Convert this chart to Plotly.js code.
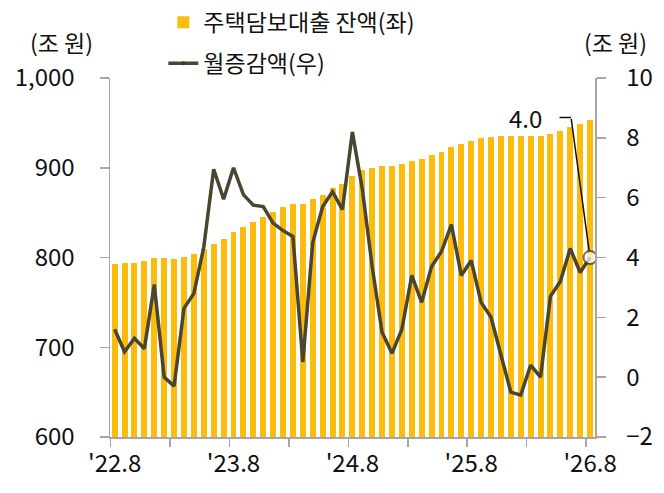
<!DOCTYPE html>
<html>
<head>
<meta charset="utf-8">
<script src="https://cdn.plot.ly/plotly-3.0.1.min.js"></script>
<style>
  html, body { margin: 0; padding: 0; background: #fff; }
  #chart { width: 664px; height: 493px; }
</style>
</head>
<body>
<div id="chart"></div>
<script>
// monthly, '22.8 ~ '26.8
const months = [
  "'22.8", "'22.9", "'22.10", "'22.11", "'22.12",
  "'23.1", "'23.2", "'23.3", "'23.4", "'23.5", "'23.6", "'23.7", "'23.8", "'23.9", "'23.10", "'23.11", "'23.12",
  "'24.1", "'24.2", "'24.3", "'24.4", "'24.5", "'24.6", "'24.7", "'24.8", "'24.9", "'24.10", "'24.11", "'24.12",
  "'25.1", "'25.2", "'25.3", "'25.4", "'25.5", "'25.6", "'25.7", "'25.8", "'25.9", "'25.10", "'25.11", "'25.12",
  "'26.1", "'26.2", "'26.3", "'26.4", "'26.5", "'26.6", "'26.7", "'26.8"
];

// 주택담보대출 잔액 (조 원, 좌축)
const balance = [
  793, 794, 794, 796, 799,
  799, 798, 801, 804, 809, 815, 821, 828, 834, 840, 845, 851,
  856, 860, 860, 865, 870, 877, 882, 891, 897, 900, 902, 902,
  904, 908, 910, 914, 918, 923, 927, 930, 933, 934, 935, 935,
  935, 935, 935, 938, 941, 945, 949, 953
];

// 월증감액 (조 원, 우축)
const change = [
  1.6, 0.85, 1.3, 0.95, 3.1,
  0.0, -0.3, 2.3, 2.8, 4.35, 6.95, 5.95, 7.0, 6.1, 5.75, 5.7, 5.15,
  4.9, 4.7, 0.5, 4.5, 5.7, 6.2, 5.6, 8.2, 6.3, 3.7, 1.5, 0.8,
  1.6, 3.4, 2.5, 3.7, 4.2, 5.1, 3.4, 3.9, 2.5, 2.0, 0.8, -0.5,
  -0.6, 0.4, 0.0, 2.7, 3.2, 4.3, 3.5, 4.0
];

const labelMonths = ["'22.8", "'23.8", "'24.8", "'25.8", "'26.8"];

const xs = months.map((m, i) => i);
const last = months.length - 1;

const FONT = '"Noto Sans CJK KR", "Noto Sans", sans-serif';
const BAR = '#fbbc0e';
const LINE = '#4a4530';
const AXIS = '#a6a6a6';

const traces = [
  {
    type: 'bar',
    name: '주택담보대출 잔액(좌)',
    x: xs,
    y: balance,
    width: 0.6,
    marker: { color: BAR },
    legendgroup: 'a',
    hoverinfo: 'skip'
  },
  {
    type: 'scatter',
    mode: 'lines+markers',
    name: '월증감액(우)',
    x: xs,
    y: change,
    yaxis: 'y2',
    line: { color: LINE, width: 3.5 },
    marker: {
      size: change.map((v, i) => i === last ? 13 : 0),
      color: '#ffffff',
      line: { color: '#333', width: 2 }
    },
    legendgroup: 'b',
    hoverinfo: 'skip'
  }
];

// ticks sit slightly left of each bar, labels under the bar
const tickPos = [];
for (let i = 0; i <= last; i += 6) tickPos.push(i - 0.4);

const layout = {
  width: 664,
  height: 493,
  margin: { l: 110, r: 69, t: 78, b: 56, autoexpand: false },
  paper_bgcolor: '#fff',
  plot_bgcolor: '#fff',
  font: { family: FONT, size: 24, color: '#111' },
  showlegend: true,
  bargap: 0,
  legend: {
    x: 0.11, xanchor: 'left',
    y: 1.215, yanchor: 'top',
    bgcolor: 'rgba(0,0,0,0)',
    font: { family: FONT, size: 23, color: '#111' },
    tracegroupgap: 8,
    traceorder: 'grouped'
  },
  xaxis: {
    range: [-0.47, 48.5],
    tickvals: labelMonths.map(m => months.indexOf(m)),
    ticktext: labelMonths,
    ticks: '',
    showgrid: false,
    zeroline: false,
    showline: true,
    linecolor: AXIS,
    linewidth: 1.5,
    tickfont: { size: 24 },
    ticklabelstandoff: 5,
    minor: {
      tickvals: tickPos,
      ticks: 'outside',
      ticklen: 8,
      tickwidth: 1.5,
      tickcolor: AXIS,
      showgrid: false
    }
  },
  yaxis: {
    range: [600, 1000],
    tickvals: [600, 700, 800, 900, 1000],
    tickformat: ',',
    showgrid: false,
    zeroline: false,
    showline: true,
    linecolor: AXIS,
    linewidth: 1.5,
    ticks: 'outside',
    ticklen: 9,
    tickwidth: 1.5,
    tickcolor: AXIS,
    ticklabelstandoff: 20
  },
  yaxis2: {
    overlaying: 'y',
    side: 'right',
    range: [-2, 10],
    tickvals: [-2, 0, 2, 4, 6, 8, 10],
    showgrid: false,
    zeroline: false,
    showline: true,
    linecolor: AXIS,
    linewidth: 1.5,
    ticks: 'outside',
    ticklen: 9,
    tickwidth: 1.5,
    tickcolor: AXIS,
    ticklabelstandoff: 16
  },
  annotations: [
    {
      xref: 'paper', yref: 'paper', x: -0.099, y: 1.1,
      xanchor: 'center', yanchor: 'middle',
      text: '(조 원)', showarrow: false, font: { size: 23 }
    },
    {
      xref: 'paper', yref: 'paper', x: 1.043, y: 1.1,
      xanchor: 'center', yanchor: 'middle',
      text: '(조 원)', showarrow: false, font: { size: 23 }
    },
    // last value label with bent leader
    {
      x: last, y: change[last], xref: 'x', yref: 'y2',
      text: change[last].toFixed(1), showarrow: false,
      xanchor: 'center', yanchor: 'middle',
      xshift: -65, yshift: 140, font: { size: 24 }
    },
    {
      x: last, y: change[last], xref: 'x', yref: 'y2',
      text: '', showarrow: true, arrowhead: 0, arrowwidth: 1.5, arrowcolor: '#111',
      ax: -19, ay: -140, standoff: 7
    },
    {
      x: last, y: change[last], xref: 'x', yref: 'y2',
      text: '', showarrow: true, arrowhead: 0, arrowwidth: 1.5, arrowcolor: '#111',
      ax: -13, ay: 0, xshift: -19, yshift: 140
    }
  ]
};

Plotly.newPlot('chart', traces, layout, { displayModeBar: false, staticPlot: true });
</script>
</body>
</html>
